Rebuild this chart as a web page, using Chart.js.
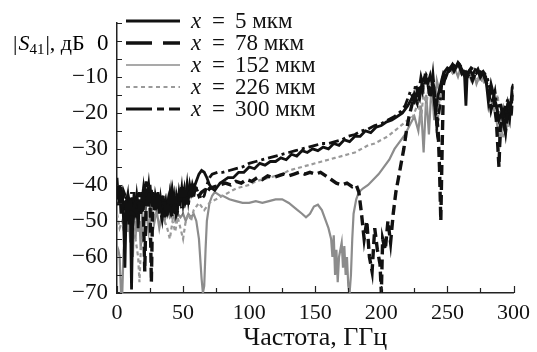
<!DOCTYPE html>
<html>
<head>
<meta charset="utf-8">
<script src="https://cdn.jsdelivr.net/npm/chart.js@4.4.0/dist/chart.umd.min.js"></script>
<style>
  body { margin: 0; background: #fff; }
  canvas { display: block; }
</style>
</head>
<body>
<canvas id="chart" width="537" height="352"></canvas>
<script>
const SERIF = '"Liberation Serif", "DejaVu Serif", serif';

// [frequency GHz, |S41| dB]
const x5um = [[0,-38],[1,-44],[2,-41],[3,-48],[4,-42],[5,-50],[6,-63],[7,-45],[8,-43],[9,-51],[10,-44],[11,-69],[12,-48],[13,-42],[14,-49],[15,-43],[16,-52],[17,-44],[18,-48],[19,-42],
  [20,-47],[21,-40],[22,-44],[23,-41],[24,-46],[25,-40],[26,-45],[27,-42],[28,-47],[29,-43],[30,-45],[31,-42],[32,-48],[33,-44],[34,-47],[35,-43],[36,-49],[37,-45],[38,-47],[39,-44],
  [40,-46],[41,-42],[42,-45],[43,-43],[44,-48],[45,-44],[46,-46],[47,-42],[48,-44],[49,-41],[50,-45],[51,-42],[52,-43],[53,-40],[54,-44],[55,-41],[56,-42],[57,-40],[58,-41.5],[59,-40],
  [60,-39],[62,-37],[64,-36],[66,-36.5],[68,-38],[70,-40],[72,-41],[74,-41.5],[76,-40.5],[78,-39.5],[80,-39],[84,-38],[88,-38],[92,-36.5],[96,-36.5],[100,-35],[104,-35.5],[108,-34],
  [112,-34.5],[116,-33.5],[120,-33.5],[124,-32.5],[128,-33],[132,-31.5],[136,-32],[140,-30.5],[144,-31],[148,-30],[152,-30.5],[156,-29.5],[160,-30],[164,-28.5],[168,-29],[172,-27.5],
  [176,-28],[180,-26.5],[184,-26.5],[188,-25],[192,-25.5],[196,-24],[200,-23.5],[204,-22.5],[208,-22],[212,-21],[216,-20],[220,-18],[223,-16],[225,-17],[227,-14],[229,-16],[231,-11],
  [233,-10],[235,-12],[237,-9.5],[239,-13],[241,-20],[243,-15],[245,-12],[247,-9],[249,-10],[251,-8],[253,-7],[255,-8.5],[257,-7],[259,-6.5],[261,-8],[263,-10],[264,-18],[265,-9],
  [267,-8],[269,-9.5],[271,-8],[273,-8.5],[275,-9],[277,-8.5],[279,-10],[281,-17],[283,-12],[285,-15],[287,-18],[289,-22],[291,-20],[293,-24],[295,-19],[297,-22],[299,-13],[300,-12]];

const x78um = [[0,-44],[1,-41],[2,-40],[3,-45],[4,-46],[5,-42],[6,-43],[7,-47],[8,-48],[9,-44],[10,-44],[11,-49],[12,-50],[13,-46],[14,-45],[15,-48],[16,-49],[17,-45],[18,-44],[19,-47],
  [20,-48],[21,-64],[22,-46],[23,-43],[24,-42],[25,-45],[26,-67],[27,-45],[28,-43],[29,-46],[30,-47],[31,-43],[32,-44],[33,-47],[34,-49],[35,-45],[36,-45],[37,-48],[38,-48],[39,-45],
  [40,-46],[41,-48],[42,-49],[43,-46],[44,-45],[45,-48],[46,-47],[47,-44],[48,-44],[49,-46],[50,-46],[51,-43],[52,-43],[53,-45],[54,-45],[55,-42],[56,-42],[57,-44],[58,-43],[59,-41],
  [60,-41],[62,-43],[64,-42],[66,-41.5],[68,-42],[70,-41],[74,-40.5],[78,-40],[82,-39.5],[86,-40],[90,-39],[94,-39.5],[98,-38.5],[102,-39],[106,-38],
  [110,-38.5],[114,-37.5],[118,-38],[122,-37.5],[126,-37],[130,-37.5],[134,-37],[138,-36.5],[142,-37],[146,-36.5],[150,-37],[154,-36.5],[158,-37.5],[162,-38.5],[166,-39.5],[170,-40],
  [174,-39.5],[178,-40.5],[181,-40],[183,-42],[185,-48],[187,-55],[189,-50],[191,-60],[193,-64],[195,-52],[197,-58],[199,-62],[200,-70],[201,-55],[203,-58],[205,-50],[207,-56],[209,-48],
  [211,-42],[213,-38],[215,-34],[217,-30],[219,-25],[221,-21],[223,-18],[225,-15],[227,-17],[229,-12],[231,-14],[233,-10],[235,-11],[237,-16],[239,-10],[241,-18],[243,-25],[244,-35],
  [245,-50],[246,-30],[247,-12],[249,-9],[251,-8.5],[253,-7.5],[255,-7],[257,-8],[259,-7],[261,-9],[263,-8],[265,-10],[267,-9],[269,-11],[271,-9],[273,-8],[275,-10],[277,-9],[279,-11],
  [281,-14],[283,-19],[285,-16],[287,-22],[289,-35],[290,-24],[292,-20],[294,-25],[296,-18],[298,-21],[300,-15]];

const x152um = [[0,-57],[1,-58],[2,-60],[3,-70],[4,-70],[5,-58],[6,-55],[7,-50],[8,-53],[9,-48],[10,-56],[11,-52],[12,-60],[13,-50],[14,-55],[15,-48],[16,-53],[17,-50],[18,-58],[19,-47],
  [20,-52],[22,-47],[24,-53],[26,-46],[28,-51],[30,-47],[32,-52],[34,-48],[36,-50],[38,-47],[40,-49],[42,-48],[44,-50],[46,-48],[48,-49],[50,-48],[52,-50],[54,-48],[56,-49],[58,-48],
  [60,-50],[62,-55],[64,-66],[65,-70],[66,-68],[67,-58],[68,-50],[70,-45],[72,-43],[74,-42],[76,-42.5],[78,-43],[80,-43],[85,-44],[90,-44.5],[95,-45],[100,-45],[105,-44.5],[110,-45],
  [115,-44.5],[120,-44],[125,-44],[130,-45],[135,-46.5],[140,-48],[143,-49],[146,-48],[149,-46],[152,-45.5],[155,-47],[158,-50],[160,-52],[162,-55],[163,-60],[164,-54],[165,-65],[166,-58],
  [167,-67],[168,-60],[170,-56],[171,-63],[172,-57],[173,-65],[174,-60],[175,-68],[176,-70],[177,-65],[178,-55],[179,-48],[181,-44],[183,-42],[186,-41],[190,-40],[194,-38.5],[198,-37],
  [202,-35],[206,-33],[210,-30],[214,-28],[218,-26],[222,-23],[225,-21],[228,-25],[230,-18],[232,-31],[234,-15],[236,-26],[238,-12],[240,-22],[242,-11],[244,-14],[246,-10],[248,-9],
  [250,-8],[252,-7.5],[254,-9],[256,-8],[258,-10],[260,-7.5],[262,-9],[264,-11],[266,-8.5],[268,-10],[270,-9],[272,-12],[274,-10],[276,-11],[278,-10],[280,-13],[282,-15],[284,-18],
  [286,-20],[288,-24],[290,-28],[292,-22],[294,-26],[296,-20],[298,-16],[300,-14]];

const x226um = [[0,-48],[2,-52],[4,-50],[6,-55],[8,-50],[10,-53],[12,-48],[14,-55],[16,-60],[17,-67],[18,-58],[20,-52],[22,-48],[24,-50],[26,-47],[28,-49],[30,-46],[32,-48],[34,-47],
  [36,-50],[38,-52],[40,-55],[42,-50],[44,-53],[46,-49],[48,-52],[50,-55],[52,-50],[54,-48],[56,-50],[58,-47],[60,-46],[62,-45],[64,-46],[66,-47],[68,-46],[70,-45],[72,-44.5],[75,-44],
  [80,-43],[85,-42],[90,-41],[95,-40.5],[100,-40],[105,-39],[110,-38.5],[115,-38],[120,-37.5],[125,-37],[130,-36],[135,-35.5],[140,-35],[145,-34.5],[150,-34],[155,-33.5],[160,-33],
  [165,-32.5],[170,-32],[175,-31.5],[180,-31],[185,-30],[190,-29],[195,-28.5],[200,-27.5],[205,-26.5],[210,-25],[215,-23.5],[220,-22],[224,-21],[226,-19],[228,-17],[230,-22],[232,-14],
  [234,-18],[236,-12],[238,-16],[240,-14],[242,-26],[244,-16],[246,-12],[248,-9.5],[250,-9],[252,-8],[254,-9],[256,-8],[258,-7],[260,-9],[262,-8.5],[264,-10],[266,-9],[268,-11],
  [270,-9.5],[272,-10],[274,-11.5],[276,-10],[278,-12],[280,-11],[282,-14],[284,-16],[286,-19],[288,-15],[290,-23],[292,-27],[294,-21],[296,-24],[298,-17],[300,-15]];

const x300um = [[0,-41],[1,-46],[2,-43],[3,-40],[4,-45],[5,-42],[6,-47],[7,-43],[8,-49],[9,-44],[10,-46],[11,-42],[12,-50],[13,-45],[14,-47],[15,-43],[16,-46],[17,-42],[18,-48],[19,-44],
  [20,-41],[21,-45],[22,-39],[23,-43],[24,-40],[25,-44],[26,-41],[27,-46],[28,-43],[29,-47],[30,-42],[31,-45],[32,-44],[33,-48],[34,-43],[35,-46],[36,-44],[37,-49],[38,-45],[39,-47],
  [40,-43],[41,-46],[42,-42],[43,-45],[44,-47],[45,-43],[46,-45],[47,-42],[48,-44],[49,-40],[50,-43],[51,-41],[52,-44],[53,-42],[54,-43],[55,-40],[56,-42],[57,-40],[58,-40],[59,-40.5],
  [60,-41],[62,-42.5],[64,-44],[66,-43],[68,-40],[70,-38],[72,-37],[76,-36.5],
  [80,-36.5],[85,-36],[90,-35.5],[95,-35],[100,-34],[105,-33.5],[110,-33],[115,-32.5],[120,-32],[125,-31.5],[130,-31],[135,-30.5],[140,-30],[145,-29.5],[150,-29],[155,-28.5],
  [160,-28.5],[165,-28],[170,-27.5],[175,-26.5],[180,-26],[185,-25],[190,-24.5],[195,-23.5],[200,-23],[205,-22],[210,-21],[215,-19.5],[218,-18],[220,-16],[222,-14],[224,-16],
  [226,-12],[228,-15],[230,-10],[232,-13],[234,-9.5],[236,-11],[238,-10],[240,-13],[242,-24],[244,-19],[246,-11],[248,-8.5],[250,-7.5],[252,-8],[254,-6.5],[256,-7.5],[258,-6],
  [260,-7],[262,-8.5],[264,-8],[266,-9],[268,-7.5],[270,-8],[272,-9],[274,-8],[276,-9.5],[278,-9],[280,-10],[282,-13],[284,-17],[286,-14],[288,-20],[290,-17],[292,-22],[294,-18],
  [296,-16],[298,-20],[300,-12]];

const legendValues = ['5', '78', '152', '226', '300'];
const xTickValues = [0, 50, 100, 150, 200, 250, 300];
const yTickValues = [-10, -20, -30, -40, -50, -60, -70];

const styles = [
  { color: '#111', width: 2.8, dash: [], legendWidth: 3, legendDash: [], order: 1 },
  { color: '#111', width: 3.4, dash: [10, 5], legendWidth: 3.5, legendDash: [26, 11], order: 0 },
  { color: '#8c8c8c', width: 2.2, dash: [], legendWidth: 1.6, legendDash: [], order: 4 },
  { color: '#9a9a9a', width: 2.2, dash: [4, 3], legendWidth: 2, legendDash: [4, 3.5], order: 3 },
  { color: '#111', width: 2.8, dash: [10, 4, 3, 4], legendWidth: 3, legendDash: [26, 5, 7, 5], order: 2 }
];

const allSeries = [x5um, x78um, x152um, x226um, x300um];

function minus(v) {
  return v < 0 ? '\u2212' + Math.abs(v) : String(v);
}

const axisTicks = {
  id: 'axisTicks',
  afterDraw(chart) {
    const { ctx, chartArea: a, scales: { x, y } } = chart;
    ctx.save();
    ctx.strokeStyle = '#222';
    ctx.lineWidth = 1.2;
    ctx.beginPath();
    for (let f = 0; f <= 300; f += 25) {
      const px = Math.round(x.getPixelForValue(f)) + 0.5;
      const len = f % 50 === 0 ? 7 : 5;
      ctx.moveTo(px, a.bottom);
      ctx.lineTo(px, a.bottom - len);
    }
    for (let d = -70; d <= 5; d += 5) {
      const py = Math.round(y.getPixelForValue(d)) + 0.5;
      ctx.moveTo(a.left, py);
      ctx.lineTo(a.left + 5, py);
    }
    ctx.stroke();
    ctx.restore();
  }
};

const customLegend = {
  id: 'customLegend',
  afterDraw(chart) {
    const ctx = chart.ctx;
    ctx.save();
    legendValues.forEach((val, i) => {
      const s = styles[i];
      const y = 21 + i * 22;
      ctx.strokeStyle = s.color;
      ctx.lineWidth = s.legendWidth;
      ctx.setLineDash(s.legendDash);
      ctx.beginPath();
      ctx.moveTo(126, y);
      ctx.lineTo(180, y);
      ctx.stroke();
      ctx.setLineDash([]);
      ctx.fillStyle = '#111';
      ctx.textBaseline = 'middle';
      ctx.font = 'italic 23px ' + SERIF;
      ctx.fillText('x', 191, y + 1);
      ctx.font = '23px ' + SERIF;
      ctx.fillText('=', 212, y + 1);
      ctx.fillText(val + ' мкм', 235, y + 1);
    });
    ctx.restore();
  }
};

// axis name "|S41|, дБ" and the "0" label, which sits level with it
const yTitle = {
  id: 'yTitle',
  afterDraw(chart) {
    const ctx = chart.ctx;
    ctx.save();
    ctx.fillStyle = '#000';
    ctx.textBaseline = 'alphabetic';
    ctx.textAlign = 'left';
    const base = 50;
    ctx.font = '23px ' + SERIF;
    ctx.fillText('0', 97, base);
    let x = 13;
    ctx.font = '22px ' + SERIF;
    ctx.fillText('|', x, base);
    x += ctx.measureText('|').width + 1;
    ctx.font = 'italic 22px ' + SERIF;
    ctx.fillText('S', x, base);
    x += ctx.measureText('S').width;
    ctx.font = '15px ' + SERIF;
    ctx.fillText('41', x, base + 4);
    x += ctx.measureText('41').width + 1;
    ctx.font = '22px ' + SERIF;
    ctx.fillText('|, дБ', x, base);
    ctx.restore();
  }
};

new Chart(document.getElementById('chart'), {
  type: 'line',
  data: {
    datasets: allSeries.map((pts, i) => ({
      data: pts.map(p => ({ x: p[0], y: p[1] })),
      borderColor: styles[i].color,
      borderWidth: styles[i].width,
      borderDash: styles[i].dash,
      order: styles[i].order,
      pointRadius: 0,
      tension: 0,
      fill: false
    }))
  },
  options: {
    responsive: false,
    animation: false,
    devicePixelRatio: 1,
    layout: { padding: { left: 0, right: 17, top: 18, bottom: 0 } },
    plugins: { legend: { display: false }, tooltip: { enabled: false } },
    scales: {
      x: {
        type: 'linear',
        min: 0,
        max: 300,
        afterBuildTicks: s => { s.ticks = xTickValues.map(v => ({ value: v })); },
        afterFit: s => { s.height = 59; },
        ticks: { color: '#111', font: { family: SERIF, size: 22 }, padding: 7, maxRotation: 0, autoSkip: false },
        grid: { display: false, drawTicks: false },
        border: { display: true, color: '#222', width: 1.5 },
        title: { display: true, text: 'Частота, ГГц', color: '#111', font: { family: SERIF, size: 26, lineHeight: 1 }, padding: { top: 0, bottom: 1 } }
      },
      y: {
        type: 'linear',
        min: -70,
        max: 5,
        afterBuildTicks: s => { s.ticks = yTickValues.map(v => ({ value: v })); },
        afterFit: s => { s.width = 117; },
        ticks: { color: '#111', font: { family: SERIF, size: 23 }, padding: 9, autoSkip: false, callback: v => minus(v) },
        grid: { display: false, drawTicks: false },
        border: { display: true, color: '#222', width: 1.5 }
      }
    }
  },
  plugins: [axisTicks, customLegend, yTitle]
});
</script>
</body>
</html>
